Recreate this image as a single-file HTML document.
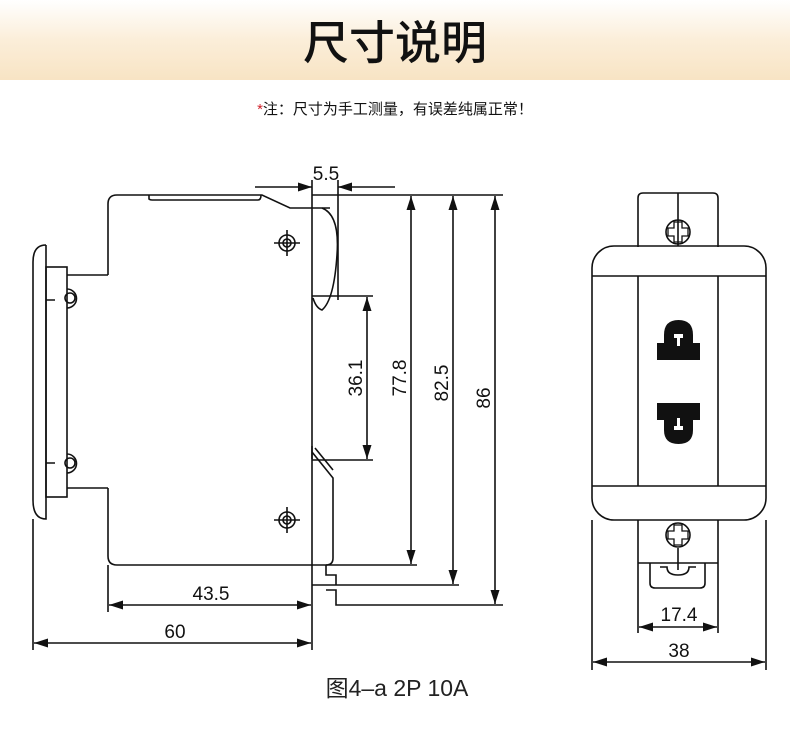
<!DOCTYPE html>
<html><head><meta charset="utf-8"><style>
html,body{margin:0;padding:0;background:#fff;}
body{width:790px;height:748px;position:relative;overflow:hidden;font-family:"Liberation Sans","Noto Sans CJK SC",sans-serif;}
.hdr{position:absolute;left:0;top:0;width:790px;height:80px;background:linear-gradient(#fff 0%,#fbeed9 50%,#f8e4c4 100%);}
.title{position:absolute;left:0;width:790px;top:12px;text-align:center;font-size:46px;color:#111;font-family:"Noto Sans CJK SC",sans-serif;font-weight:500;line-height:56px;}
.note{position:absolute;left:0;width:790px;top:98px;text-align:center;font-size:15px;color:#111;font-family:"Liberation Sans","Noto Sans CJK SC",sans-serif;}
.note span{color:#d0202a;}
svg{position:absolute;left:0;top:0;}
</style></head><body>
<div class="hdr"></div>
<div class="title">尺寸说明</div>
<div class="note"><span>*</span>注：尺寸为手工测量，有误差纯属正常！</div>
<svg width="790" height="748" viewBox="0 0 790 748">
<defs>
<marker id="a" viewBox="0 0 14 10" refX="14" refY="5" markerWidth="14" markerHeight="10" markerUnits="userSpaceOnUse" orient="auto-start-reverse"><path d="M0,0.5 L14,5 L0,9.5 z" fill="#111"/></marker>
</defs>
<g fill="none" stroke="#111" stroke-width="1.6">
<path d="M108,275 L108,204 Q108,195 117,195 L262,195 L290,208 L330,208"/>
<path d="M149,195 L149,199 Q150,200 152,200 L258,200 Q261,200 261,195"/>
<path d="M312,208 L312,585"/>
<path d="M322,208 Q340,215 337,255 Q334,300 322,310 Q316,308 313,298"/>
<path d="M312,296 L373,296"/>
<path d="M312,452 L333,478 L333,558 Q333,565 326,565"/>
<path d="M312,460 L373,460"/>
<path d="M312,446 L312,459 M315,448 L333,470"/>
<path d="M108,488 L108,556 Q108,565 117,565 L417,565"/>
<path d="M108,275 L67,275 M108,488 L67,488"/>
<rect x="46" y="267" width="21" height="230"/>
<path d="M46,245 L46,519 Q33,519 33,500 L33,262 Q33,245 46,245"/>
<path d="M46,300 L55,300 M46,463 L55,463"/>
<path d="M67,289 A9,9 0 0 1 67,308 M67,454 A9,9 0 0 1 67,473"/>
<circle cx="70" cy="298" r="5"/><circle cx="70" cy="463" r="5"/>
<circle cx="287" cy="243" r="8"/><circle cx="287" cy="243" r="4"/>
<path d="M274,243 L300,243 M287,230 L287,256"/>
<circle cx="287" cy="520" r="8"/><circle cx="287" cy="520" r="4"/>
<path d="M274,520 L300,520 M287,507 L287,533"/>
<path d="M312,585 L459,585 M326,565 L326,575 L336,575 L336,585 M326,590 L336,590 L336,605 L503,605"/>
<path d="M312,180 L312,208 M338,180 L338,300"/>
<path d="M312,195 L503,195"/>
<path d="M108,565 L108,612 M312,585 L312,650 M33,519 L33,650"/>
<path d="M255,187 L312,187" marker-end="url(#a)"/>
<path d="M395,187 L338,187" marker-end="url(#a)"/>
<path d="M367,297 L367,459" marker-start="url(#a)" marker-end="url(#a)"/>
<path d="M411,196 L411,564" marker-start="url(#a)" marker-end="url(#a)"/>
<path d="M453,196 L453,584" marker-start="url(#a)" marker-end="url(#a)"/>
<path d="M495,196 L495,604" marker-start="url(#a)" marker-end="url(#a)"/>
<path d="M109,605 L311,605" marker-start="url(#a)" marker-end="url(#a)"/>
<path d="M34,643 L311,643" marker-start="url(#a)" marker-end="url(#a)"/>
<path d="M638,247 L638,198 Q638,193 643,193 L713,193 Q718,193 718,198 L718,247"/>
<path d="M678,193 L678,246"/>
<circle cx="678" cy="232" r="12"/>
<path d="M674,222 L682,222 L682,228 L688,228 L688,236 L682,236 L682,242 L674,242 L674,236 L668,236 L668,228 L674,228 Z" stroke-width="1.3"/>
<rect x="592" y="246" width="174" height="274" rx="22"/>
<path d="M592,276 L766,276 M592,486 L766,486 M638,276 L638,486 M718,276 L718,486"/>
<path d="M638,520 L638,633 M718,520 L718,633"/>
<path d="M638,563 L718,563 M678,548 L678,570"/>
<circle cx="678" cy="535" r="12"/>
<path d="M674,525 L682,525 L682,531 L688,531 L688,539 L682,539 L682,545 L674,545 L674,539 L668,539 L668,531 L674,531 Z" stroke-width="1.3"/>
<path d="M650,563 L650,583 Q650,588 655,588 L700,588 Q705,588 705,583 L705,563"/>
<path d="M660,567 L667,567 Q667,575 678,575 Q689,575 689,567 L696,567"/>
<path d="M592,520 L592,670 M766,520 L766,670"/>
<path d="M639,627 L717,627" marker-start="url(#a)" marker-end="url(#a)"/>
<path d="M593,662 L765,662" marker-start="url(#a)" marker-end="url(#a)"/>
</g>
<path d="M657,343 L664,343 L664,335 Q664,320 678.5,320 Q693,320 693,335 L693,343 L700,343 L700,360 L657,360 Z" fill="#111"/>
<rect x="674" y="334" width="9" height="4" fill="#fff"/><rect x="677" y="334" width="3" height="12" fill="#fff"/>
<path d="M657,403 L700,403 L700,420 L693,420 L693,430 Q693,444 678.5,444 Q664,444 664,430 L664,420 L657,420 Z" fill="#111"/>
<rect x="677" y="418" width="3" height="12" fill="#fff"/><rect x="674" y="426" width="9" height="4" fill="#fff"/>
<g font-family="Liberation Sans, sans-serif" font-size="19" fill="#111" text-anchor="middle">
<text x="326" y="180">5.5</text>
<text transform="translate(362,378) rotate(-90)">36.1</text>
<text transform="translate(406,378) rotate(-90)">77.8</text>
<text transform="translate(448,383) rotate(-90)">82.5</text>
<text transform="translate(490,398) rotate(-90)">86</text>
<text x="211" y="600">43.5</text>
<text x="175" y="638">60</text>
<text x="679" y="621">17.4</text>
<text x="679" y="657">38</text>
</g>
<text x="397" y="696" text-anchor="middle" font-size="23" fill="#222" font-family="Liberation Sans, Noto Sans CJK SC, sans-serif">图4–a 2P 10A</text>
</svg>
</body></html>
